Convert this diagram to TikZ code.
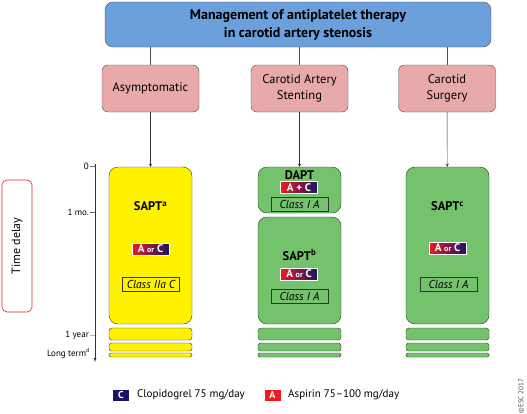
\documentclass[tikz,border=0pt]{standalone}
\usepackage{fontspec}
\setmainfont{PT Sans}
\usetikzlibrary{arrows,shapes,backgrounds,fit}

\definecolor{headblue}{HTML}{6CA0DC}
\definecolor{branchpink}{HTML}{E8A9AB}
\definecolor{saptyellow}{HTML}{FFF200}
\definecolor{saptgreen}{HTML}{74C26B}
\definecolor{clopinavy}{HTML}{1B1464}
\definecolor{aspired}{HTML}{ED1C24}
\definecolor{delayred}{HTML}{E0202A}

\begin{document}
\begin{tikzpicture}[x=1pt,y=-1pt]
		\tikzstyle{head}=[draw=black!70, fill=headblue, rounded corners=8pt, minimum width=386pt, minimum height=45pt, font=\fontsize{14}{18}\selectfont\bfseries, align=center]
		\tikzstyle{branch}=[draw=black!70, fill=branchpink, rounded corners=6pt, minimum width=97pt, minimum height=47pt, font=\fontsize{12.5}{16}\selectfont, align=center]
		\tikzstyle{yellowbox}=[draw=black!80, fill=saptyellow, rounded corners=9pt, minimum width=83pt, inner sep=0pt]
		\tikzstyle{greenbox}=[yellowbox, draw=black!70!saptgreen, fill=saptgreen]
		\tikzstyle{badge}=[left color=aspired, right color=clopinavy, draw=white, text=white, font=\fontsize{11}{11}\selectfont\bfseries, minimum width=37pt, minimum height=12pt, inner sep=0.5pt]
		\tikzstyle{classbox}=[draw=black!80, font=\fontsize{11.5}{12}\selectfont\itshape, minimum width=57pt, minimum height=14pt, inner sep=0.5pt]
		\tikzstyle{drug}=[font=\fontsize{12.5}{13}\selectfont\bfseries]
		\tikzstyle{ticklabel}=[anchor=east, font=\fontsize{9}{10}\selectfont, inner sep=1pt]
		\tikzstyle{keybox}=[text=white, font=\fontsize{10}{10}\selectfont\bfseries, minimum width=16pt, minimum height=11pt, inner sep=0pt]
		\tikzstyle{keytext}=[anchor=west, font=\fontsize{11}{12}\selectfont, inner sep=0pt]
		\tikzstyle{arrow}=[-stealth, black!80]

	\useasboundingbox (0,0) rectangle (527,413);

	% top and branches
	\node [head] (mgmt) at (298,24.5) {Management of antiplatelet therapy\\in carotid artery stenosis};
	\node [branch] (asym) at (150.5,88.5) {Asymptomatic};
	\node [branch] (cas) at (299.5,88.5) {Carotid Artery\\Stenting};
	\node [branch] (cea) at (447,88.5) {Carotid\\Surgery};

	\draw [black!70] (mgmt.south -| asym) -- (asym);
	\draw [black!70] (mgmt.south -| cas) -- (cas);
	\draw [black!70] (mgmt.south -| cea) -- (cea);

	% time axis
	\node [draw=delayred, semithick, fill=white, rounded corners=5pt, rotate=90, minimum width=132pt, minimum height=30pt, font=\fontsize{12}{12}\selectfont] (delay) at (17,246) {Time delay};
	\coordinate (axtop) at (95,164);
	\coordinate (axend) at (95,362);
	\draw [-latex, black!80] (axtop) -- (axend);
	\node [ticklabel] (lab0) at (90,166) {0};
	\node [ticklabel] (labmo) at (90,212) {1 mo.};
	\node [ticklabel] (labyr) at (90,335) {1 year};
	\node [ticklabel] (labterm) at (91,353) {Long term\textsuperscript{d}};
	\draw [black!60] (lab0.east) -- (lab0.east -| axtop);
	\draw [black!60] (labmo.east) -- (labmo.east -| axtop);
	\draw [black!30] (labyr.east) -- (labyr.east -| axtop);

	% asymptomatic column
	\node [yellowbox, minimum height=157pt] (sapta) at (150.5,245.5) {};
	\node [drug] (saptatxt) at (150.5,206) {SAPT\textsuperscript{a}};
	\node [badge] (aorc1) at (150.5,249) {A {\fontsize{8}{8}\selectfont or} C};
	\node [classbox] (class1) at (151,284) {Class IIa C};
	\foreach \y/\h/\r in {334/12/3, 347/8/2.5, 355/4/1.5}
		\node [yellowbox, rounded corners=\r pt, minimum height=\h pt] at (150.5,\y) {};

	% stenting column
	\node [greenbox, minimum height=46pt] (dapt) at (299.5,190) {};
	\node [drug, inner sep=0pt] (dapttxt) at (299.5,175) {DAPT};
	\node [badge] (aplusc) at (299,187.5) {A + C};
	\node [classbox] (class2) at (299.5,204.5) {Class I A};
	\node [greenbox, minimum height=107pt] (saptb) at (299.5,270.5) {};
	\node [drug] (saptbtxt) at (299.5,255) {SAPT\textsuperscript{b}};
	\node [badge] (aorc2) at (299,274) {A {\fontsize{8}{8}\selectfont or} C};
	\node [classbox] (class3) at (299.5,296) {Class I A};
	\foreach \y/\h/\r in {334/12/3, 347/8/2.5, 355/4/1.5}
		\node [greenbox, rounded corners=\r pt, minimum height=\h pt] at (299.5,\y) {};

	% surgery column
	\node [greenbox, minimum height=157pt] (saptc) at (447.5,245.5) {};
	\node [drug] (saptctxt) at (447.5,206) {SAPT\textsuperscript{c}};
	\node [badge] (aorc3) at (447.5,248) {A {\fontsize{8}{8}\selectfont or} C};
	\node [classbox] (class4) at (448.5,284) {Class I A};
	\foreach \y/\h/\r in {334/12/3, 347/8/2.5, 355/4/1.5}
		\node [greenbox, rounded corners=\r pt, minimum height=\h pt] at (447.5,\y) {};

	\draw [arrow] (asym) -- (sapta);
	\draw [arrow] (cas) -- (dapt);
	\draw [arrow] (cea) -- (saptc);

	% key
	\node [keybox, fill=clopinavy] (keyc) at (121,395) {C};
	\node [keytext] (keyctxt) at (137,395) {Clopidogrel 75 mg/day};
	\node [keybox, fill=aspired] (keya) at (272.5,395) {A};
	\node [keytext] (keyatxt) at (288,395) {Aspirin 75–100 mg/day};
	\node [rotate=90, font=\fontsize{7}{7}\selectfont, text=black!70, inner sep=0pt] (esc) at (521,396) {©ESC 2017};
\end{tikzpicture}
\end{document}
